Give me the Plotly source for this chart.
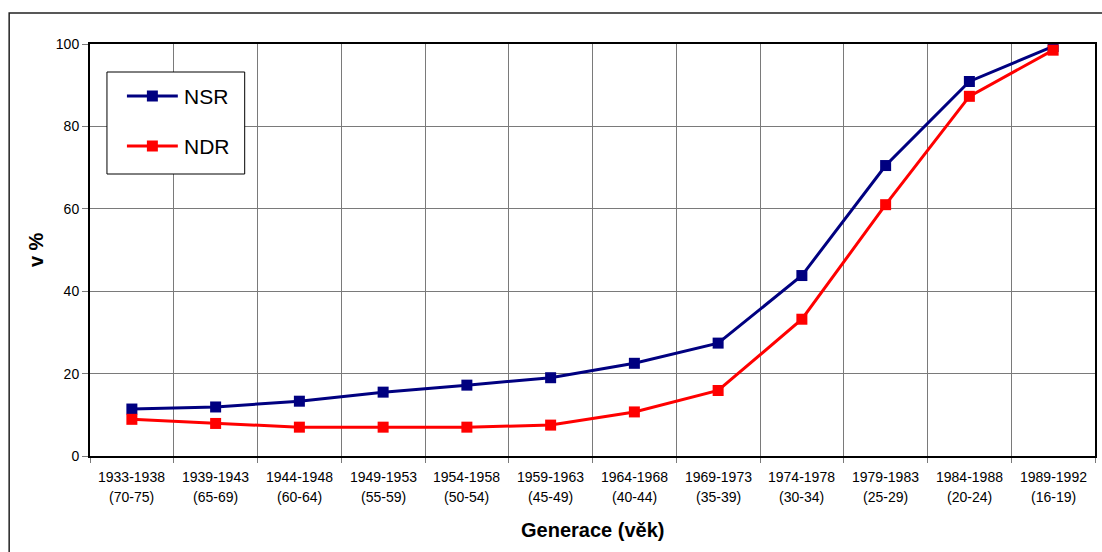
import plotly.graph_objects as go

# Birth cohorts and the matching age ranges
periods = ["1933-1938", "1939-1943", "1944-1948", "1949-1953", "1954-1958", "1959-1963",
           "1964-1968", "1969-1973", "1974-1978", "1979-1983", "1984-1988", "1989-1992"]
ages = ["(70-75)", "(65-69)", "(60-64)", "(55-59)", "(50-54)", "(45-49)",
        "(40-44)", "(35-39)", "(30-34)", "(25-29)", "(20-24)", "(16-19)"]

# Share in percent per cohort
nsr = [11.4, 11.9, 13.3, 15.5, 17.2, 19.0, 22.5, 27.4, 43.8, 70.5, 90.9, 99.4]
ndr = [8.9, 7.9, 7.0, 7.0, 7.0, 7.5, 10.7, 15.9, 33.2, 61.0, 87.3, 98.5]

series = [("NSR", nsr, "#000080"), ("NDR", ndr, "#FF0000")]

FONT = "Liberation Sans, Arial, sans-serif"
W, H = 1102, 552
L, R, T, B = 90, 5, 44, 96
pw, ph = W - L - R, H - T - B


def px_x(x):
    """Pixel column -> paper x."""
    return (x - L) / pw


def px_y(y):
    """Pixel row -> paper y."""
    return (H - B - y) / ph


fig = go.Figure()
for name, vals, col in series:
    fig.add_trace(go.Scatter(
        x=periods, y=vals, name=name, mode="lines+markers",
        line=dict(color=col, width=3),
        marker=dict(symbol="square", size=11, color=col),
    ))

annotations = []
for p, a in zip(periods, ages):
    annotations.append(dict(x=p, y=0, xref="x", yref="paper", text=p, showarrow=False,
                            yanchor="middle", yshift=-21, font=dict(size=14, color="black", family=FONT)))
    annotations.append(dict(x=p, y=0, xref="x", yref="paper", text=a, showarrow=False,
                            yanchor="middle", yshift=-41, font=dict(size=14, color="black", family=FONT)))

annotations.append(dict(x=0.5, y=px_y(530), xref="paper", yref="paper", text="<b>Generace (věk)</b>",
                        showarrow=False, xanchor="center", yanchor="middle",
                        font=dict(size=20, color="black", family=FONT)))
annotations.append(dict(x=px_x(36), y=0.5, xref="paper", yref="paper", text="<b>v %</b>",
                        textangle=-90, showarrow=False, xanchor="center", yanchor="middle",
                        font=dict(size=20, color="black", family=FONT)))

# Outer chart frame
shapes = [dict(type="rect", xref="paper", yref="paper",
               x0=px_x(9), x1=1.2, y0=-0.5, y1=px_y(13),
               line=dict(color="#222222", width=1.5), fillcolor="rgba(0,0,0,0)", layer="below")]

# Legend box with line-and-marker samples
shapes.append(dict(type="rect", xref="paper", yref="paper",
                   x0=px_x(107), x1=px_x(245), y0=px_y(174), y1=px_y(72),
                   line=dict(color="black", width=1), fillcolor="white", layer="above"))
for i, (name, vals, col) in enumerate(series):
    yc = 96 + 50 * i
    shapes.append(dict(type="line", xref="paper", yref="paper",
                       x0=px_x(127), x1=px_x(178), y0=px_y(yc), y1=px_y(yc),
                       line=dict(color=col, width=3), layer="above"))
    shapes.append(dict(type="rect", xref="paper", yref="paper",
                       x0=px_x(147), x1=px_x(158), y0=px_y(yc + 5.5), y1=px_y(yc - 5.5),
                       line=dict(color=col, width=0), fillcolor=col, layer="above"))
    annotations.append(dict(x=px_x(182), y=px_y(yc), xref="paper", yref="paper", text=name,
                            showarrow=False, xanchor="left", yanchor="middle",
                            font=dict(size=21, color="black", family=FONT)))

fig.update_layout(
    width=W, height=H,
    margin=dict(l=L, r=R, t=T, b=B),
    paper_bgcolor="white", plot_bgcolor="white",
    font=dict(family=FONT, color="black", size=14),
    showlegend=False,
    annotations=annotations,
    shapes=shapes,
)
fig.update_xaxes(
    type="category", range=[-0.5, 11.5], tickson="boundaries",
    showgrid=True, gridcolor="#7a7a7a", gridwidth=1,
    showline=True, linecolor="black", linewidth=2, mirror=True,
    ticks="outside", ticklen=5, tickcolor="#7a7a7a", showticklabels=False,
)
fig.update_yaxes(
    range=[0, 100], dtick=20, tick0=0,
    showgrid=True, gridcolor="#7a7a7a", gridwidth=1,
    showline=True, linecolor="black", linewidth=2, mirror=True,
    ticks="outside", ticklen=6, tickcolor="#7a7a7a",
    tickfont=dict(size=14, family=FONT, color="black"),
    zeroline=False,
)

fig.write_html("out.html")
